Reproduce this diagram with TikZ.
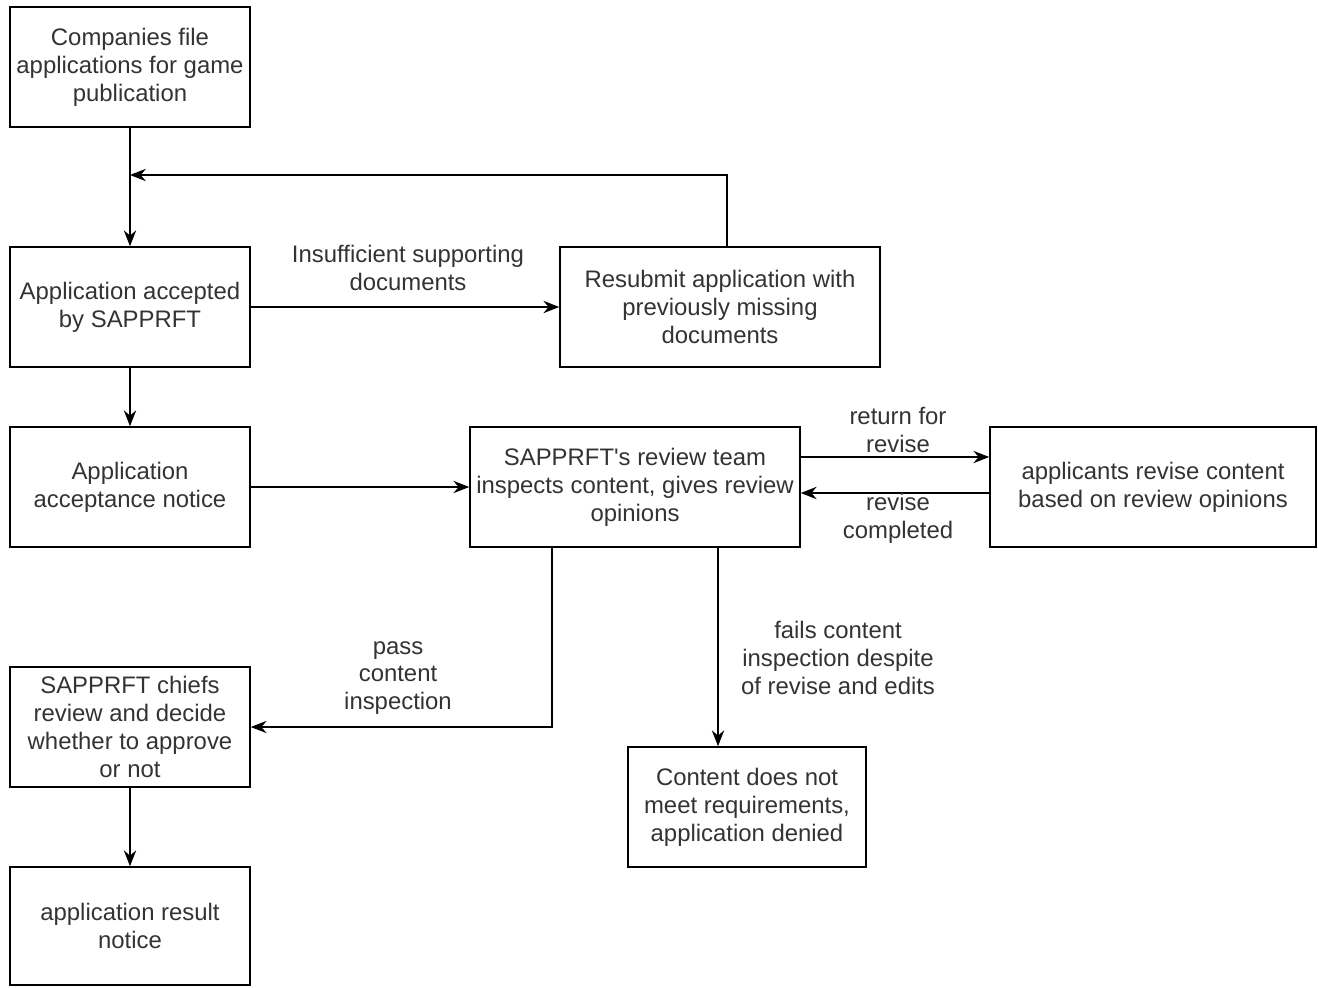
\documentclass[tikz,border=0pt]{standalone}
\usepackage{fontspec}
\setmainfont{Liberation Sans}
\usetikzlibrary{arrows.meta,positioning}
\tikzstyle{stepbox}=[draw,rectangle,line width=0.9pt,minimum width=4.8cm,minimum height=2.4cm,inner sep=2pt,align=center,text=black!80]
\tikzstyle{lbl}=[align=center,text=black!80]
\tikzstyle{flow}=[line width=0.9pt,-{Stealth[length=9pt,width=7pt]}]

\begin{document}
\begin{tikzpicture}[x=0.02cm,y=-0.02cm,font=\fontsize{13.6}{15.9}\selectfont]
      \useasboundingbox (0,0) rectangle (1318,987);
      \node[stepbox] at (130,67) (comp) {Companies file\\applications for game\\publication};
      \node[stepbox] at (130,307) (accpt) {Application accepted\\by SAPPRFT};
      \node[stepbox, minimum width=6.4cm] at (720,307) (resub) {Resubmit application with\\previously missing\\documents};
      \node[stepbox] at (130,487) (notice) {Application\\acceptance notice};
      \node[stepbox, minimum width=6.6cm] at (635,487) (review) {SAPPRFT\textquotesingle s review team\\inspects content, gives review\\opinions};
      \node[stepbox, minimum width=6.52cm] at (1153,487) (revise) {applicants revise content\\based on review opinions};
      \node[stepbox] at (130,727) (chiefs) {SAPPRFT chiefs\\review and decide\\whether to approve\\or not};
      \node[stepbox, minimum width=4.76cm] at (747,807) (denied) {Content does not\\meet requirements,\\application denied};
      \node[stepbox, minimum height=2.36cm] at (130,926) (result) {application result\\notice};

      \coordinate (loopup) at (727,247);
      \coordinate (loopin) at (130,175);
      \coordinate (passout) at (552,547);
      \coordinate (failout) at (718,547);

      \draw[flow] (comp) -- (accpt);
      \draw[flow] (loopup) |- (loopin);
      \draw[flow] (accpt) -- (resub);
      \draw[flow] (accpt) -- (notice);
      \draw[flow] (notice) -- (review);
      \draw[flow] ([yshift=0.6cm]review.east) -- ([yshift=0.6cm]revise.west);
      \draw[flow] ([yshift=-0.12cm]revise.west) -- ([yshift=-0.12cm]review.east);
      \draw[flow] (passout) |- (chiefs.east);
      \draw[flow] (failout) -- (failout |- denied.north);
      \draw[flow] (chiefs) -- (result);

      \node[lbl] at (408,268) (ins) {Insufficient supporting\\documents};
      \node[lbl] at (898,430) (ret) {return for\\revise};
      \node[lbl] at (898,518) (done) {revise\\completed};
      \node[lbl] at (398,678) (pass) {pass\\content\\inspection};
      \node[lbl] at (838,658) (fail) {fails content\\inspection despite\\of revise and edits};
\end{tikzpicture}
\end{document}
